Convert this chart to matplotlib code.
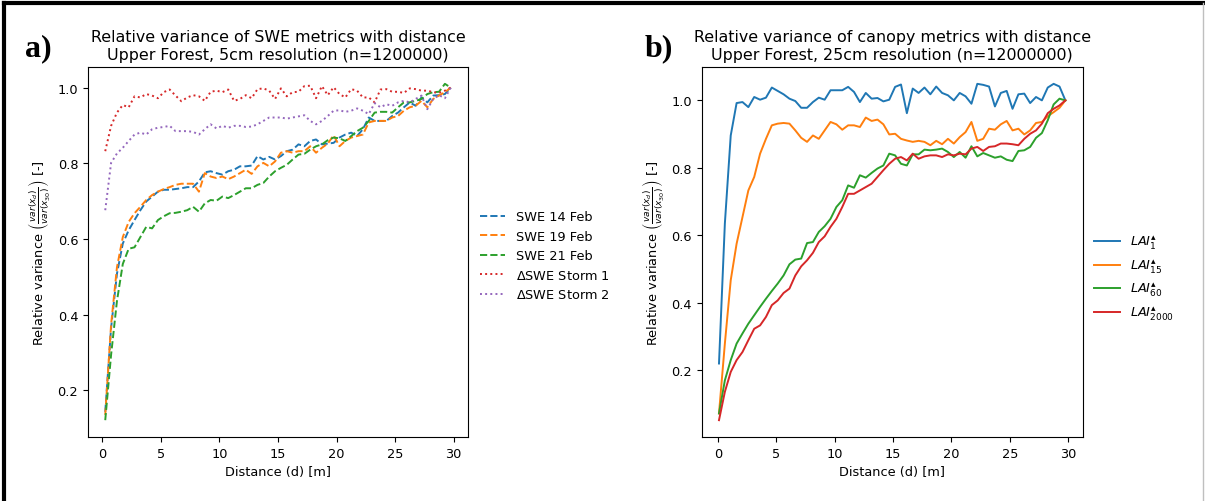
import numpy as np
import matplotlib.pyplot as plt
from matplotlib.lines import Line2D

# distances (bin centres, m)
dist_swe = np.arange(0.25, 30, 0.5)
dist_lai = np.linspace(0.1, 29.75, 60)

swe_14feb = [0.143, 0.365, 0.508, 0.588, 0.623, 0.650, 0.676, 0.699, 0.712, 0.725,
             0.730, 0.730, 0.732, 0.734, 0.737, 0.737, 0.752, 0.776, 0.779, 0.774,
             0.770, 0.779, 0.783, 0.792, 0.792, 0.794, 0.819, 0.810, 0.817, 0.810,
             0.819, 0.832, 0.836, 0.850, 0.845, 0.859, 0.863, 0.850, 0.852, 0.854,
             0.868, 0.876, 0.881, 0.872, 0.890, 0.921, 0.912, 0.912, 0.912, 0.925,
             0.934, 0.948, 0.961, 0.952, 0.974, 0.961, 0.979, 0.980, 0.983, 1.000]
swe_19feb = [0.135, 0.374, 0.525, 0.605, 0.645, 0.668, 0.685, 0.703, 0.716, 0.725,
             0.732, 0.737, 0.743, 0.746, 0.746, 0.746, 0.725, 0.774, 0.765, 0.761,
             0.765, 0.758, 0.765, 0.774, 0.783, 0.772, 0.792, 0.801, 0.792, 0.805,
             0.828, 0.832, 0.828, 0.832, 0.832, 0.845, 0.828, 0.841, 0.852, 0.874,
             0.845, 0.859, 0.868, 0.872, 0.876, 0.908, 0.912, 0.912, 0.912, 0.921,
             0.925, 0.939, 0.948, 0.952, 0.965, 0.948, 0.970, 0.979, 0.988, 1.000]
swe_21feb = [0.121, 0.294, 0.436, 0.534, 0.574, 0.578, 0.605, 0.632, 0.628, 0.650,
             0.660, 0.668, 0.669, 0.672, 0.676, 0.685, 0.672, 0.694, 0.703, 0.701,
             0.712, 0.708, 0.716, 0.725, 0.734, 0.734, 0.743, 0.748, 0.765, 0.779,
             0.788, 0.796, 0.810, 0.823, 0.825, 0.836, 0.845, 0.850, 0.861, 0.868,
             0.866, 0.859, 0.872, 0.885, 0.894, 0.912, 0.934, 0.936, 0.936, 0.934,
             0.948, 0.961, 0.961, 0.965, 0.970, 0.983, 0.988, 0.989, 1.010, 1.000]
dswe_storm1 = [0.832, 0.899, 0.934, 0.954, 0.948, 0.977, 0.974, 0.983, 0.979, 0.972,
               0.988, 0.995, 0.979, 0.964, 0.974, 0.980, 0.977, 0.965, 0.989, 0.992,
               0.988, 0.995, 0.965, 0.970, 0.980, 0.972, 0.996, 0.998, 0.992, 0.970,
               0.998, 0.977, 0.988, 0.989, 1.004, 1.005, 0.972, 1.004, 0.980, 1.001,
               0.983, 0.974, 0.996, 0.992, 0.974, 0.974, 0.961, 0.995, 0.996, 0.989,
               0.989, 0.986, 0.998, 0.996, 0.992, 0.992, 0.988, 0.986, 0.992, 1.000]
dswe_storm2 = [0.676, 0.801, 0.826, 0.841, 0.859, 0.876, 0.881, 0.876, 0.890, 0.894,
               0.896, 0.899, 0.885, 0.885, 0.885, 0.883, 0.876, 0.890, 0.903, 0.892,
               0.899, 0.894, 0.899, 0.899, 0.896, 0.897, 0.903, 0.912, 0.921, 0.921,
               0.921, 0.918, 0.921, 0.924, 0.927, 0.912, 0.903, 0.912, 0.925, 0.939,
               0.940, 0.936, 0.939, 0.945, 0.939, 0.930, 0.959, 0.948, 0.956, 0.952,
               0.961, 0.965, 0.961, 0.970, 0.979, 0.943, 0.970, 0.980, 0.972, 1.000]

lai_1 = [0.220, 0.635, 0.896, 0.992, 0.995, 0.980, 1.010, 1.002, 1.008, 1.038,
         1.028, 1.018, 1.005, 0.998, 0.978, 0.978, 0.995, 1.008, 1.002, 1.030,
         1.030, 1.030, 1.040, 1.025, 0.995, 1.022, 1.005, 1.007, 0.997, 1.002,
         1.040, 1.047, 0.962, 1.035, 1.022, 1.038, 1.018, 1.041, 1.022, 1.015,
         1.000, 1.022, 1.012, 0.990, 1.049, 1.046, 1.041, 0.982, 1.022, 1.028,
         0.975, 1.018, 1.020, 0.992, 1.010, 1.000, 1.038, 1.049, 1.041, 1.000]
lai_15 = [0.072, 0.279, 0.467, 0.575, 0.654, 0.733, 0.773, 0.842, 0.886, 0.926,
          0.931, 0.933, 0.931, 0.911, 0.889, 0.877, 0.896, 0.886, 0.911, 0.936,
          0.929, 0.913, 0.926, 0.926, 0.921, 0.949, 0.939, 0.943, 0.929, 0.899,
          0.901, 0.886, 0.881, 0.877, 0.880, 0.877, 0.867, 0.880, 0.870, 0.886,
          0.872, 0.891, 0.906, 0.936, 0.880, 0.886, 0.916, 0.913, 0.929, 0.939,
          0.911, 0.916, 0.899, 0.911, 0.933, 0.936, 0.953, 0.965, 0.978, 1.000]
lai_60 = [0.072, 0.170, 0.230, 0.279, 0.309, 0.338, 0.363, 0.388, 0.412, 0.435,
          0.457, 0.481, 0.514, 0.528, 0.531, 0.577, 0.580, 0.610, 0.627, 0.649,
          0.684, 0.704, 0.748, 0.741, 0.778, 0.771, 0.785, 0.798, 0.807, 0.842,
          0.837, 0.812, 0.807, 0.840, 0.840, 0.854, 0.852, 0.854, 0.857, 0.847,
          0.832, 0.847, 0.830, 0.864, 0.834, 0.844, 0.837, 0.830, 0.834, 0.824,
          0.820, 0.850, 0.852, 0.862, 0.889, 0.903, 0.941, 0.988, 1.005, 1.000]
lai_2000 = [0.052, 0.136, 0.195, 0.230, 0.254, 0.289, 0.323, 0.333, 0.358, 0.393,
            0.407, 0.429, 0.442, 0.481, 0.508, 0.526, 0.548, 0.580, 0.597, 0.625,
            0.649, 0.684, 0.723, 0.723, 0.733, 0.743, 0.753, 0.773, 0.793, 0.812,
            0.827, 0.832, 0.822, 0.842, 0.827, 0.834, 0.837, 0.837, 0.832, 0.840,
            0.837, 0.842, 0.840, 0.857, 0.862, 0.850, 0.862, 0.864, 0.872, 0.872,
            0.870, 0.867, 0.886, 0.901, 0.911, 0.931, 0.962, 0.975, 0.985, 1.000]

plt.rcParams['font.size'] = 9.3
plt.rcParams['lines.linewidth'] = 1.4

fig = plt.figure(figsize=(12.05, 5.02), dpi=100)
ax1 = fig.add_axes([0.073, 0.1275, 0.3154, 0.737])
ax2 = fig.add_axes([0.5823, 0.1275, 0.3162, 0.737])

ylab = r"Relative variance $\left(\frac{var(x_d)}{var(x_{30})}\right)$ [-]"

ax1.plot(dist_swe, swe_14feb, '--', label='SWE 14 Feb')
ax1.plot(dist_swe, swe_19feb, '--', label='SWE 19 Feb')
ax1.plot(dist_swe, swe_21feb, '--', label='SWE 21 Feb')
ax1.plot(dist_swe, dswe_storm1, ':', label=r'$\Delta$SWE Storm 1')
ax1.plot(dist_swe, dswe_storm2, ':', label=r'$\Delta$SWE Storm 2')
ax1.set_title("Relative variance of SWE metrics with distance\n"
              "Upper Forest, 5cm resolution (n=1200000)", fontsize=11.4)
ax1.set_xlabel("Distance (d) [m]")
ax1.set_ylabel(ylab)
ax1.legend(loc='center left', bbox_to_anchor=(1.0, 0.49), frameon=False)

ax2.plot(dist_lai, lai_1, label=r'$LAI^{\blacktriangle}_{1}$')
ax2.plot(dist_lai, lai_15, label=r'$LAI^{\blacktriangle}_{15}$')
ax2.plot(dist_lai, lai_60, label=r'$LAI^{\blacktriangle}_{60}$')
ax2.plot(dist_lai, lai_2000, label=r'$LAI^{\blacktriangle}_{2000}$')
ax2.set_title("Relative variance of canopy metrics with distance\n"
              "Upper Forest, 25cm resolution (n=12000000)", fontsize=11.4)
ax2.set_xlabel("Distance (d) [m]")
ax2.set_ylabel(ylab)
ax2.legend(loc='center left', bbox_to_anchor=(1.0, 0.43), frameon=False)

fig.text(0.021, 0.888, "a)", fontsize=23, fontweight='bold', family='Liberation Serif')
fig.text(0.535, 0.888, "b)", fontsize=23, fontweight='bold', family='Liberation Serif')

# screenshot frame
fig.add_artist(Line2D([0.003, 1], [0.992, 0.992], color='k', lw=3, transform=fig.transFigure))
fig.add_artist(Line2D([0.003, 0.003], [0, 0.992], color='k', lw=3, transform=fig.transFigure))
fig.add_artist(Line2D([0.998, 0.998], [0, 0.992], color='0.75', lw=1, transform=fig.transFigure))

fig.savefig("out.png", dpi=100)
plt.close()
